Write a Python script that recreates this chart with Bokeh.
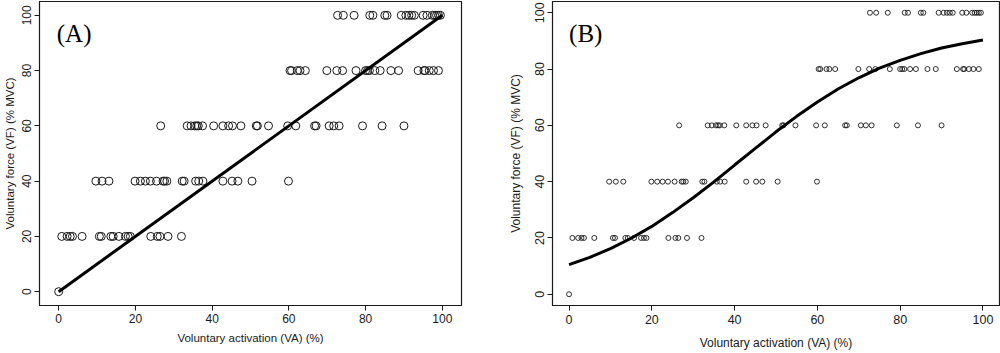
from bokeh.plotting import figure
from bokeh.layouts import row
from bokeh.models import Label, FixedTicker, ColumnDataSource
from bokeh.embed import file_html
from bokeh.resources import INLINE

# ---- data ----
vf_levels = [0, 20, 40, 60, 80, 100]
va_at_vf0 = [0.0]
va_at_vf20 = [0.8, 2.2, 3.0, 3.6, 6.1, 10.6, 11.1, 13.6, 14.2, 15.7, 17.4,
              18.1, 18.7, 24.0, 25.7, 26.4, 28.5, 32.0]
va_at_vf40 = [9.7, 11.3, 13.1, 19.9, 21.3, 22.6, 23.9, 25.5, 27.2, 27.6, 28.2,
              32.2, 32.7, 35.7, 36.5, 37.6, 42.8, 45.2, 46.7, 50.4, 59.9]
va_at_vf60 = [26.6, 33.5, 34.5, 35.5, 36.0, 36.4, 37.5, 40.4, 42.8, 44.3, 45.3,
              47.5, 51.5, 51.8, 54.7, 59.7, 61.8, 66.7, 67.1, 70.5, 71.7, 73.1,
              79.2, 84.3, 90.0]
va_at_vf80 = [60.3, 60.7, 62.2, 62.9, 64.3, 69.9, 72.5, 74.0, 77.5, 80.0, 80.5,
              81.0, 82.4, 83.8, 86.6, 88.6, 93.7, 95.2, 95.5, 96.6, 97.7, 99.0]
va_at_vf100 = [72.7, 74.2, 77.0, 81.1, 81.9, 85.0, 85.6, 89.3, 90.5, 91.3, 92.0,
               92.7, 95.0, 96.0, 97.4, 98.0, 98.5, 99.0, 99.5]

line_a_x = [0, 100]
line_a_y = [0, 100]

curve_b_x = [0, 5, 10, 15, 20, 25, 30, 35, 40, 45, 50, 55, 60, 65, 70, 75, 80,
             85, 90, 95, 100]
curve_b_y = [10.5, 13.1, 16.2, 19.9, 24.1, 29.0, 34.3, 39.9, 45.9, 51.8, 57.7,
             63.2, 68.3, 72.9, 76.9, 80.3, 83.1, 85.5, 87.5, 89.0, 90.3]

x_ticks = [0, 20, 40, 60, 80, 100]
y_ticks = [0, 20, 40, 60, 80, 100]
x_title = "Voluntary activation (VA) (%)"
y_title = "Voluntary force (VF) (% MVC)"
panel_names = ["(A)", "(B)"]

va_all = []
vf_all = []
for lvl, vals in zip(vf_levels, [va_at_vf0, va_at_vf20, va_at_vf40,
                                 va_at_vf60, va_at_vf80, va_at_vf100]):
    va_all += vals
    vf_all += [lvl] * len(vals)

FONT = "Liberation Sans"
INK = "#1a1a1a"


def make_panel(width, x_range, y_range, mb_left, mb_right, mb_bottom,
               label_size, title_size, x_std, x_title_std, y_std, y_title_std):
    p = figure(width=width, height=353, x_range=x_range, y_range=y_range,
               output_backend="svg", toolbar_location=None,
               min_border_left=mb_left, min_border_right=mb_right,
               min_border_top=1, min_border_bottom=mb_bottom)
    p.grid.visible = False
    p.outline_line_color = INK
    p.outline_line_width = 1.2
    p.background_fill_color = "white"
    p.border_fill_color = "white"
    for ax in (p.xaxis[0], p.yaxis[0]):
        ax.minor_tick_line_color = None
        ax.major_tick_in = 0
        ax.major_tick_out = 5
        ax.major_tick_line_color = INK
        ax.axis_line_color = INK
        ax.major_label_text_font = FONT
        ax.major_label_text_font_size = label_size
        ax.major_label_text_color = INK
        ax.axis_label_text_font = FONT
        ax.axis_label_text_font_size = title_size
        ax.axis_label_text_font_style = "normal"
        ax.axis_label_text_color = INK
    p.xaxis[0].ticker = FixedTicker(ticks=x_ticks)
    p.yaxis[0].ticker = FixedTicker(ticks=y_ticks)
    p.xaxis[0].axis_label = x_title
    p.yaxis[0].axis_label = y_title
    p.xaxis[0].major_label_standoff = x_std
    p.xaxis[0].axis_label_standoff = x_title_std
    p.yaxis[0].major_label_standoff = y_std
    p.yaxis[0].axis_label_standoff = y_title_std
    p.yaxis[0].major_label_orientation = "vertical"
    return p


src = ColumnDataSource(dict(va=va_all, vf=vf_all))

# Panel A
pa = make_panel(500, (-5, 105), (-5, 105), 37, 39, 48, "12px", "11.5px",
                3, 6, 3, 4)
pa.scatter("va", "vf", source=src, marker="circle", size=8, fill_color=None,
           line_color=INK, line_width=1)
pa.line(line_a_x, line_a_y, line_color="black", line_width=3)
pa.add_layout(Label(x=-0.5, y=93.4, text=panel_names[0], text_font="Liberation Serif",
                    text_font_size="25px", text_color="black",
                    text_baseline="middle", text_align="left"))

# Panel B
pb = make_panel(500, (-4, 104), (-4, 104), 52, 1, 47, "12.5px", "12px",
                4, 9, 3, 10)
pb.scatter("va", "vf", source=src, marker="circle", size=5, fill_color=None,
           line_color=INK, line_width=0.9)
pb.line(curve_b_x, curve_b_y, line_color="black", line_width=3)
pb.add_layout(Label(x=0, y=92.7, text=panel_names[1], text_font="Liberation Serif",
                    text_font_size="25px", text_color="black",
                    text_baseline="middle", text_align="left"))

layout = row(pa, pb)
open("out.html", "w").write(file_html(layout, INLINE))
